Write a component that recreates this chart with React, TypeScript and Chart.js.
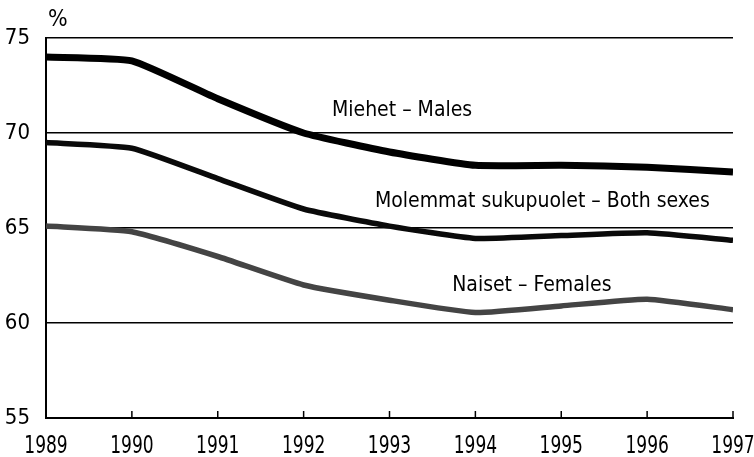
import React, { useEffect, useRef } from "react";
import { Chart, registerables } from "chart.js";

Chart.register(...registerables);

const years = [1989, 1990, 1991, 1992, 1993, 1994, 1995, 1996, 1997];
const males = [74.0, 73.8, 71.8, 70.0, 69.0, 68.3, 68.3, 68.2, 67.95];
const both = [69.5, 69.2, 67.6, 66.0, 65.1, 64.45, 64.6, 64.75, 64.35];
const females = [65.1, 64.8, 63.5, 62.0, 61.2, 60.55, 60.9, 61.25, 60.7];
const yTicks = [55, 60, 65, 70, 75];
const seriesLabels = [
  { text: "Miehet – Males", x: 1992.33, y: 70.88 },
  { text: "Molemmat sukupuolet – Both sexes", x: 1992.83, y: 66.1 },
  { text: "Naiset – Females", x: 1993.73, y: 61.7 },
];

const FONT = "'DejaVu Sans Condensed', 'DejaVu Sans', sans-serif";

const decorPlugin = {
  id: "decor",
  afterDraw(chart: any) {
    const ctx = chart.ctx;
    const xs = chart.scales.x;
    const ys = chart.scales.y;
    const area = chart.chartArea;
    ctx.save();
    ctx.strokeStyle = "#000";
    ctx.lineWidth = 1.5;
    xs.ticks.forEach((t: any, i: number) => {
      if (i === 0) return;
      const px = xs.getPixelForValue(t.value);
      ctx.beginPath();
      ctx.moveTo(px, area.bottom);
      ctx.lineTo(px, area.bottom - 7);
      ctx.stroke();
    });
    ctx.fillStyle = "#000";
    ctx.font = `25px ${FONT}`;
    ctx.textAlign = "center";
    ctx.textBaseline = "alphabetic";
    xs.ticks.forEach((t: any) => {
      const px = xs.getPixelForValue(t.value);
      ctx.save();
      ctx.translate(px, area.bottom + 35);
      ctx.scale(0.76, 1);
      ctx.fillText(String(t.value), 0, 0);
      ctx.restore();
    });
    ctx.font = `23px ${FONT}`;
    ctx.textAlign = "left";
    ctx.fillText("%", area.left + 2, area.top - 12);
    ctx.font = `21px ${FONT}`;
    seriesLabels.forEach((l) => {
      ctx.fillText(l.text, xs.getPixelForValue(l.x), ys.getPixelForValue(l.y));
    });
    ctx.restore();
  },
};

export default function App() {
  const ref = useRef<HTMLCanvasElement>(null);
  useEffect(() => {
    document.body.style.margin = "0";
    const chart = new Chart(ref.current!, {
      type: "line",
      data: {
        datasets: [
          {
            label: "Miehet – Males",
            data: years.map((y, i) => ({ x: y, y: males[i] })),
            borderColor: "#000",
            borderWidth: 7,
            pointRadius: 0,
            tension: 0.15,
          },
          {
            label: "Molemmat sukupuolet – Both sexes",
            data: years.map((y, i) => ({ x: y, y: both[i] })),
            borderColor: "#0a0a0a",
            borderWidth: 5.5,
            pointRadius: 0,
            tension: 0.15,
          },
          {
            label: "Naiset – Females",
            data: years.map((y, i) => ({ x: y, y: females[i] })),
            borderColor: "#444",
            borderWidth: 5.5,
            pointRadius: 0,
            tension: 0.15,
          },
        ],
      },
      options: {
        responsive: false,
        animation: false,
        layout: { padding: { top: 38, right: 21, left: 0, bottom: 0 } },
        plugins: { legend: { display: false }, tooltip: { enabled: false } },
        scales: {
          x: {
            type: "linear",
            min: 1989,
            max: 1997,
            afterFit: (s: any) => {
              s.height = 39;
              s.paddingRight = 0;
              s.paddingLeft = 0;
            },
            afterBuildTicks: (s: any) => {
              s.ticks = years.map((v) => ({ value: v }));
            },
            ticks: { display: false },
            grid: { display: false, drawTicks: false },
            border: { display: true, color: "#000", width: 2 },
          },
          y: {
            type: "linear",
            min: 55,
            max: 75,
            afterFit: (s: any) => {
              s.width = 46;
            },
            afterBuildTicks: (s: any) => {
              s.ticks = yTicks.map((v) => ({ value: v }));
            },
            ticks: {
              color: "#000",
              font: { family: FONT, size: 22 },
              padding: 16,
              callback: (v: any) => String(v),
            },
            grid: {
              color: "#000",
              lineWidth: 1.5,
              drawTicks: false,
              tickLength: 0,
            },
            border: { display: true, color: "#000", width: 2 },
          },
        },
      },
      plugins: [decorPlugin],
    });
    return () => chart.destroy();
  }, []);
  return (
    <div style={{ width: 754, height: 457, background: "#fff" }}>
      <canvas ref={ref} width={754} height={457} style={{ display: "block" }} />
    </div>
  );
}
